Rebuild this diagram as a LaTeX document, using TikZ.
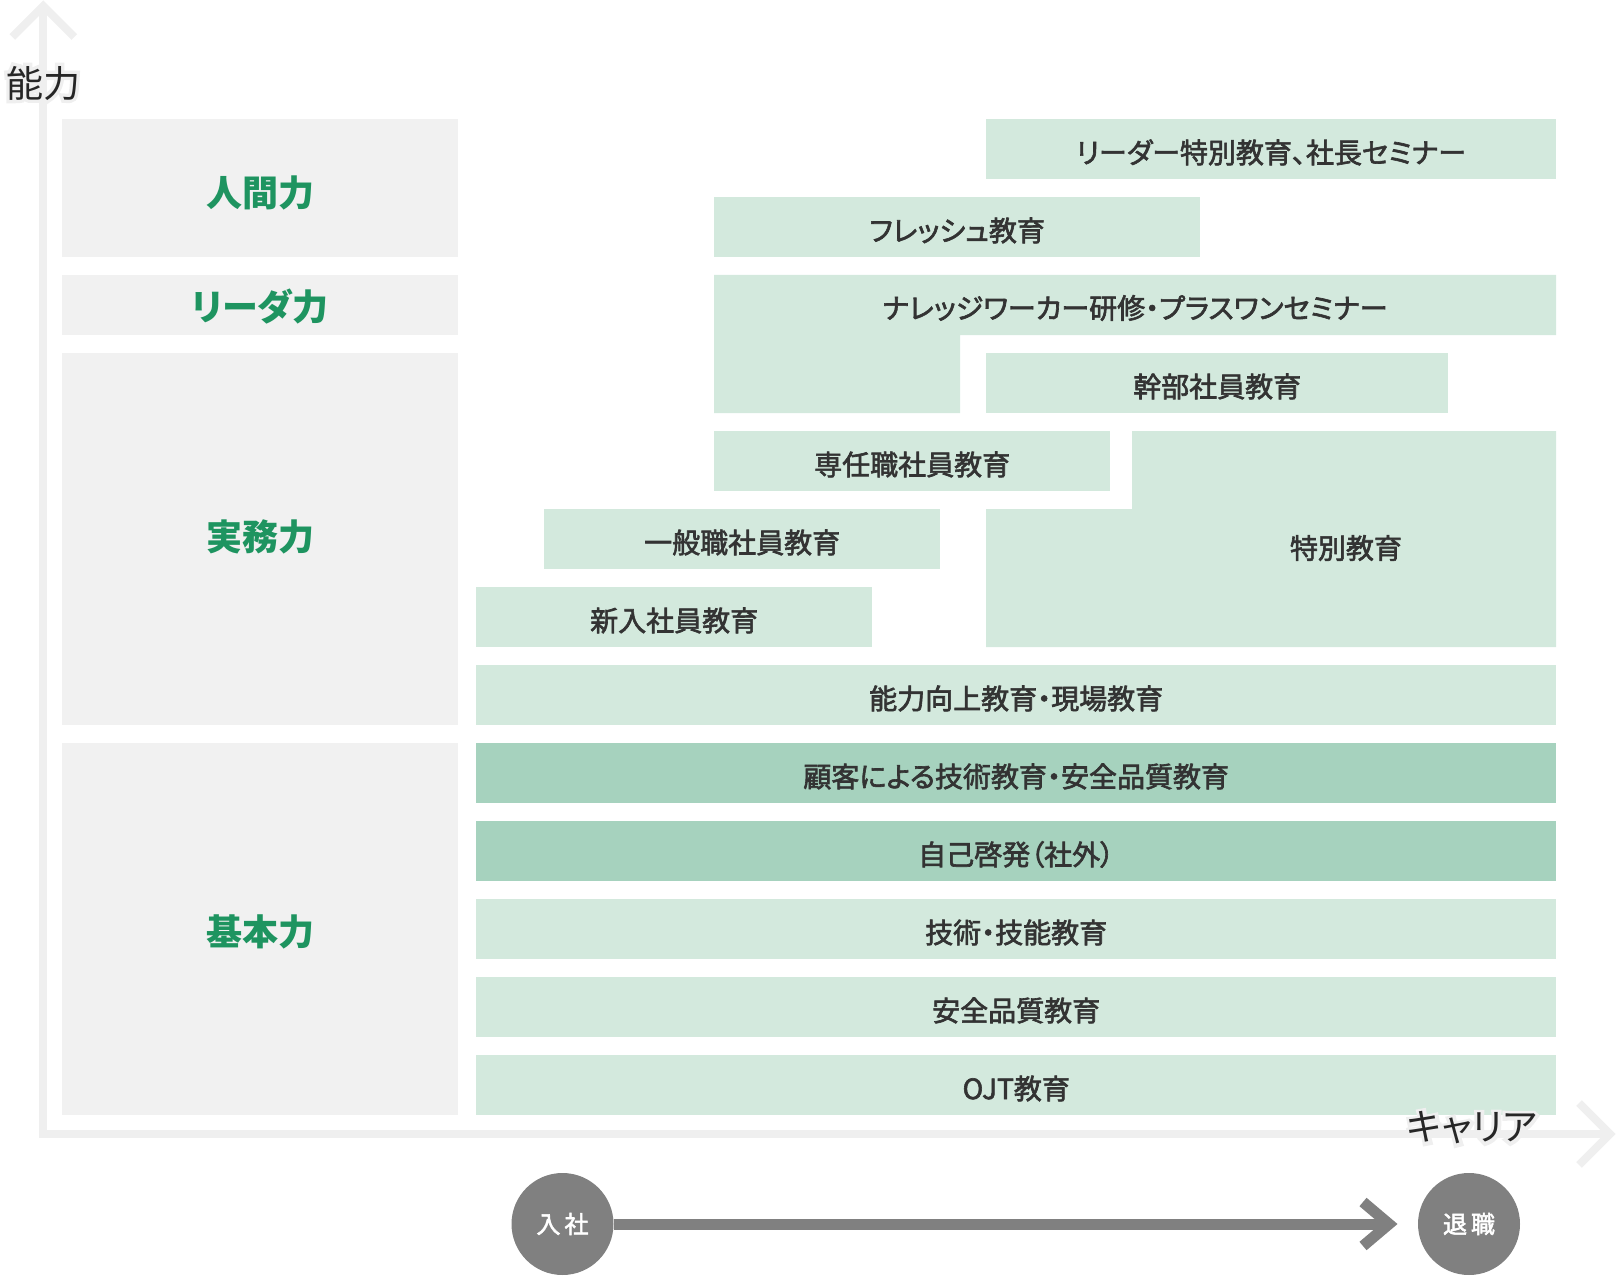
\documentclass[tikz,border=0pt]{standalone}
\usepackage{fontspec}
\setmainfont{Noto Sans CJK JP}
\newfontfamily\medfont[RawFeature={embolden=2.2;+palt}]{Noto Sans CJK JP}
\newfontfamily\paltfont[RawFeature={+palt}]{Noto Sans CJK JP}
\newfontfamily\halofont[RawFeature={embolden=18;+palt}]{Noto Sans CJK JP}
\usetikzlibrary{calc}
\definecolor{axisgray}{HTML}{EFEFEF}
\definecolor{catgray}{HTML}{F1F1F1}
\definecolor{catgreen}{HTML}{1E9460}
\definecolor{lightg}{HTML}{D3E9DD}
\definecolor{darkg}{HTML}{A6D2BE}
\definecolor{boxtext}{HTML}{333333}
\definecolor{circgray}{HTML}{808080}
\tikzset{
  axisline/.style={draw=axisgray, line width=8pt, line join=miter},
  catbox/.style={fill=catgray, inner sep=0pt, anchor=north west, text=catgreen,
    text height=40pt, text depth=4pt,
    font=\paltfont\fontsize{36}{40}\selectfont\bfseries},
  edubox/.style={fill=lightg, inner sep=0pt, anchor=north west, text=boxtext,
    text height=30pt, text depth=2.2pt,
    minimum height=60pt, font=\medfont\fontsize{28}{31}\selectfont},
  eduboxdark/.style={edubox, fill=darkg},
  edutext/.style={text=boxtext, inner sep=0pt, font=\medfont\fontsize{28}{31}\selectfont},
  axislabel/.style={text=black!85, inner sep=0pt, font=\paltfont\fontsize{37}{41}\selectfont},
  axishalo/.style={text=axisgray, inner sep=0pt, font=\halofont\fontsize{37}{41}\selectfont},
  circ/.style={circle, fill=circgray, minimum size=102pt, inner sep=0pt, text=white,
    font=\medfont\fontsize{24}{28}\selectfont},
  flow/.style={draw=circgray, line width=11pt, line join=miter},
}
\begin{document}
\begin{tikzpicture}[x=1pt,y=-1pt]
\useasboundingbox (0,0) rectangle (1618,1276);
% axes
\coordinate (ytop) at (43.3,6);
\coordinate (orig) at (43.3,1134);
\coordinate (xend) at (1610,1134);
\draw[axisline] (ytop) -- (orig) -- (xend);
\draw[axisline] ($(ytop)+(-31,31)$) -- (ytop) -- ($(ytop)+(31,31)$);
\draw[axisline] ($(xend)+(-31,-31)$) -- (xend) -- ($(xend)+(-31,31)$);
% category boxes
\node[catbox, minimum width=396pt, minimum height=138pt] (ningen) at (62,119) {人間力};
\node[catbox, minimum width=396pt, minimum height=60pt, text height=34pt] (leader) at (62,275) {リーダ力};
\node[catbox, minimum width=396pt, minimum height=372pt, text height=26pt] (jitsumu) at (62,353) {実務力};
\node[catbox, minimum width=396pt, minimum height=372pt, text height=36pt] (kihon) at (62,743) {基本力};
% education boxes
\node[edubox, minimum width=570pt] (lead) at (986,119) {リーダー特別教育、社長セミナー};
\node[edubox, minimum width=486pt] (fresh) at (714,197) {フレッシュ教育};
\fill[lightg] (714,275) -- (1556,275) -- (1556,335) -- (960,335) -- (960,413) -- (714,413) -- cycle;
\node[edutext] (know) at (1135,308) {ナレッジワーカー研修・プラスワンセミナー};
\node[edubox, minimum width=462pt] (kanbu) at (986,353) {幹部社員教育};
\node[edubox, minimum width=396pt] (sennin) at (714,431) {専任職社員教育};
\fill[lightg] (1132,431) -- (1556,431) -- (1556,647) -- (986,647) -- (986,509) -- (1132,509) -- cycle;
\node[edutext] (toku) at (1346,548) {特別教育};
\node[edubox, minimum width=396pt] (ippan) at (544,509) {一般職社員教育};
\node[edubox, minimum width=396pt] (shinnyu) at (476,587) {新入社員教育};
\node[edubox, minimum width=1080pt] (noryoku) at (476,665) {能力向上教育・現場教育};
\node[eduboxdark, minimum width=1080pt] (kokyaku) at (476,743) {顧客による技術教育・安全品質教育};
\node[eduboxdark, minimum width=1080pt] (jiko) at (476,821) {自己啓発（社外）};
\node[edubox, minimum width=1080pt] (gijutsu) at (476,899) {技術・技能教育};
\node[edubox, minimum width=1080pt] (anzen) at (476,977) {安全品質教育};
\node[edubox, minimum width=1080pt] (ojt) at (476,1055) {OJT教育};
% axis labels with halo
\node[axishalo] (ylabhalo) at (43,83) {能力};
\node[axislabel] (ylab) at (43,83) {能力};
\node[axishalo] (xlabhalo) at (1472,1128) {キャリア};
\node[axislabel] (xlab) at (1472,1128) {キャリア};
% career flow
\node[circ] (nyusha) at (562.5,1224) {入\hspace{4pt}社};
\node[circ] (taishoku) at (1469,1224) {退\hspace{4pt}職};
\coordinate (tip) at (1389,1224);
\draw[flow] (nyusha.east) -- (tip);
\draw[flow] ($(tip)+(-26,-22)$) -- (tip) -- ($(tip)+(-26,22)$);
\end{tikzpicture}
\end{document}
